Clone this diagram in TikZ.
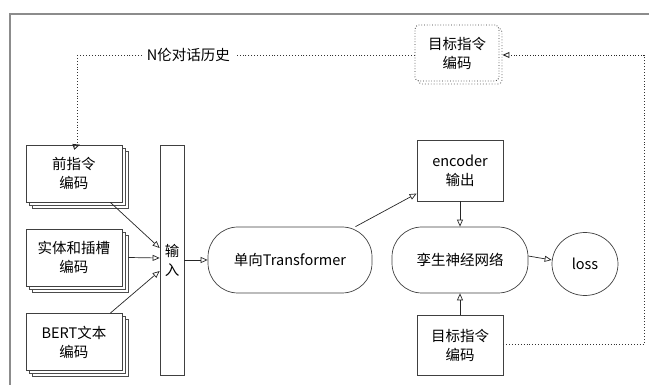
\documentclass[tikz,border=0pt]{standalone}
\usepackage{fontspec}
\setmainfont{Noto Sans CJK SC}
\usepackage{tikz}
\usetikzlibrary{arrows.meta,shadows,shapes.geometric}

\begin{document}
\begin{tikzpicture}[
    x=1pt, y=-1pt,
    font=\fontsize{14.5}{19}\selectfont,
    every node/.style={align=center, inner sep=0pt},
    box/.style={draw=black!75, line width=0.7pt, fill=white, minimum width=84pt, minimum height=58pt},
    stackbox/.style={box, minimum width=96pt, minimum height=57pt,
      double copy shadow={shadow xshift=3pt, shadow yshift=-3pt, draw=black!70, line width=0.6pt, fill=white}},
    roundbox/.style={draw=black!75, line width=0.7pt, fill=white, rounded corners=30pt, minimum height=66pt},
    link/.style={draw=black!85, line width=0.7pt, -{Triangle[open, length=7pt, width=6pt]}},
    history/.style={draw=black!80, dotted, line width=0.9pt},
  ]
  \useasboundingbox (0,0) rectangle (649,385);
  \draw[black!45, line width=1.3pt] (10,385) -- (10,14) -- (649,14);

  \node[stackbox] (front) at (74,173.5) {前指令\\编码};
  \node[stackbox] (slot) at (74,257.5) {实体和插槽\\编码};
  \node[stackbox] (bert) at (74,342) {BERT文本\\编码};
  \node[box, minimum width=24pt, minimum height=230pt] (inp) at (172,260) {输\\入};
  \node[roundbox, minimum width=164pt] (trans) at (290,260) {单向Transformer};
  \node[box, minimum width=86pt, minimum height=61pt] (enc) at (460,170.5) {encoder\\输出};
  \node[roundbox, minimum width=136pt] (siam) at (460,260) {孪生神经网络};
  \node[box, ellipse, minimum width=66pt, minimum height=63pt] (loss) at (585,264) {loss};
  \node[box, minimum width=86pt, minimum height=60pt] (target) at (460,345) {目标指令\\编码};
  \node[box, draw=black!80, dotted, line width=0.9pt, rounded corners=4pt, minimum width=84pt, minimum height=56pt,
    copy shadow={shadow xshift=3pt, shadow yshift=-3pt, draw=black!60, dotted, fill=white}] (hist) at (457,53) {目标指令\\编码};

  \coordinate (hl) at (77,55);
  \coordinate (rt) at (644,55);
  \coordinate (rb) at (644,344);

  \draw[link] ([xshift=-2pt]front.-37) -- ([yshift=12pt]inp.west);
  \draw[link] ([xshift=6pt]slot.east) -- ([yshift=2pt]inp.west);
  \draw[link] ([xshift=-2pt]bert.37) -- ([yshift=-11pt]inp.west);
  \draw[link] (inp.east) -- (trans.west);
  \draw[link] (trans.27) -- (enc.208);
  \draw[link] (enc.south) -- (siam.north);
  \draw[link] (target.north) -- (siam.south);
  \draw[link] ([yshift=4pt]siam.east) -- ([yshift=4pt]loss.west);

  \draw[history] (hist.west |- hl) -- node[pos=0.67, fill=white, inner xsep=5pt] {N伦对话历史} (hl);
  \draw[history] (hl) -- (hl |- front.north);
  \draw[link, dotted, line width=0.9pt] ([yshift=-1pt]hl |- front.north) -- ([xshift=3pt]front.north -| hl);
  \draw[history] (target.east |- rb) -- (rb) -- (rt);
  \draw[link, dotted, line width=0.9pt] (rt) -- ([xshift=3pt]hist.east |- rt);
\end{tikzpicture}
\end{document}
